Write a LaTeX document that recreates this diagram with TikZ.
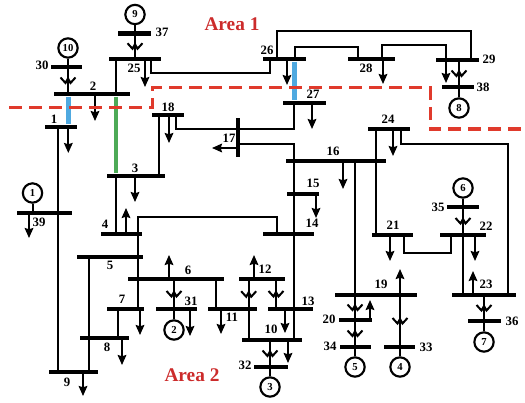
\documentclass[tikz,border=0pt]{standalone}
\usepackage{fontspec}
\setmainfont{Liberation Serif}
\usetikzlibrary{arrows.meta}
\definecolor{cutColor}{RGB}{224, 58, 44}
\definecolor{areaColor}{RGB}{204, 43, 43}
\definecolor{tieBlue}{RGB}{79, 169, 224}
\definecolor{tieGreen}{RGB}{77, 170, 87}
\tikzset{
    bus_bar/.style={
        rectangle,
        fill=black,
        inner sep=0pt,
        minimum height=3.6pt,
        minimum width=#1*0.75pt
    },
    vbus_bar/.style={
        rectangle,
        fill=black,
        inner sep=0pt,
        minimum width=3.6pt,
        minimum height=#1*0.75pt
    },
    gen_node/.style={
        circle,
        draw,
        line width=1.6pt,
        fill=white,
        inner sep=0pt,
        minimum size=14.5pt,
        font=\bfseries\fontsize{8}{8}\selectfont
    },
    num_label/.style={
        inner sep=0pt,
        font=\bfseries\fontsize{9.6}{9.6}\selectfont
    },
    area_label/.style={
        inner sep=0pt,
        text=areaColor,
        font=\bfseries\fontsize{14.5}{14.5}\selectfont
    },
    wire_line/.style={
        line width=1.5pt,
        draw=black
    },
    load_arrow/.style={
        wire_line,
        -{Stealth[length=7.5pt,width=6.5pt,inset=1pt]}
    },
    tie_line/.style={
        line width=3.6pt
    },
    cut_line/.style={
        draw=cutColor,
        line width=2.25pt,
        dash pattern=on 9.5pt off 5.5pt
    },
    xfmr/.pic={
        \draw[wire_line] (-7.5,-3) -- (-2.5,2.5) -- (0,-2) -- (2.5,2.5) -- (7.5,-3);
    }
}
\begin{document}
\begin{tikzpicture}[x=0.75pt,y=-0.75pt]
    \useasboundingbox (0,0) rectangle (525,403);

    % buses
    \node[bus_bar=55] (b39) at (44.5,213) {};
    \node[bus_bar=32] (b1) at (61,127) {};
    \node[bus_bar=76] (b2) at (92,94) {};
    \node[bus_bar=58] (b3) at (136,176) {};
    \node[bus_bar=41] (b4) at (121.5,234) {};
    \node[bus_bar=66] (b5) at (110,257) {};
    \node[bus_bar=96] (b6) at (176,279) {};
    \node[bus_bar=37] (b7) at (125.5,309) {};
    \node[bus_bar=49] (b8) at (104.5,338) {};
    \node[bus_bar=49] (b9) at (73.5,372) {};
    \node[bus_bar=60] (b10) at (272,340) {};
    \node[bus_bar=49] (b11) at (232.5,309) {};
    \node[bus_bar=46] (b12) at (262,279) {};
    \node[bus_bar=45] (b13) at (290.5,309) {};
    \node[bus_bar=51] (b14) at (288.5,234) {};
    \node[bus_bar=32] (b15) at (303,194) {};
    \node[bus_bar=100] (b16) at (336,161) {};
    \node[vbus_bar=39] (b17) at (238,137.5) {};
    \node[bus_bar=32] (b18) at (168,115) {};
    \node[bus_bar=82] (b19) at (376,295) {};
    \node[bus_bar=33] (b20) at (355.5,320) {};
    \node[bus_bar=41] (b21) at (392.5,235) {};
    \node[bus_bar=46] (b22) at (463,235) {};
    \node[bus_bar=64] (b23) at (484,295) {};
    \node[bus_bar=42] (b24) at (389,129) {};
    \node[bus_bar=52] (b25) at (135,59) {};
    \node[bus_bar=43] (b26) at (284.5,59) {};
    \node[bus_bar=43] (b27) at (304.5,103) {};
    \node[bus_bar=47] (b28) at (371.5,59) {};
    \node[bus_bar=43] (b29) at (457.5,60) {};
    \node[bus_bar=41] (b31) at (176.5,309) {};
    \node[bus_bar=34] (b32) at (271,367) {};
    \node[bus_bar=31] (b33) at (399.5,347) {};
    \node[bus_bar=31] (b34) at (355.5,347) {};
    \node[bus_bar=32] (b35) at (463,207) {};
    \node[bus_bar=33] (b36) at (484.5,321) {};
    \node[bus_bar=33] (b37) at (134.5,33.5) {};
    \node[bus_bar=32] (b38) at (458,87) {};
    \node[bus_bar=31] (b30) at (66.5,67) {};

    % generators
    \node[gen_node] (g1) at (32.5,193) {1};
    \node[gen_node] (g2) at (174,330) {2};
    \node[gen_node] (g3) at (270,387) {3};
    \node[gen_node] (g4) at (400,367) {4};
    \node[gen_node] (g5) at (355,367) {5};
    \node[gen_node] (g6) at (463,188) {6};
    \node[gen_node] (g7) at (484,342) {7};
    \node[gen_node] (g8) at (459,108) {8};
    \node[gen_node] (g9) at (135,14.5) {9};
    \node[gen_node] (g10) at (68,48) {10};

    % bus numbers
    \node[num_label] (n1) at (54,119) {1};
    \node[num_label] (n2) at (93,86) {2};
    \node[num_label] (n3) at (135,168) {3};
    \node[num_label] (n4) at (105,224) {4};
    \node[num_label] (n5) at (110,265) {5};
    \node[num_label] (n6) at (188,270) {6};
    \node[num_label] (n7) at (122,299) {7};
    \node[num_label] (n8) at (107,347) {8};
    \node[num_label] (n9) at (67,382) {9};
    \node[num_label] (n10) at (271,329) {10};
    \node[num_label] (n11) at (232,317) {11};
    \node[num_label] (n12) at (265,269) {12};
    \node[num_label] (n13) at (308,301) {13};
    \node[num_label] (n14) at (312,223) {14};
    \node[num_label] (n15) at (313,183) {15};
    \node[num_label] (n16) at (333,151) {16};
    \node[num_label] (n17) at (229,138) {17};
    \node[num_label] (n18) at (168,107) {18};
    \node[num_label] (n19) at (381,284) {19};
    \node[num_label] (n20) at (329,319) {20};
    \node[num_label] (n21) at (393,225) {21};
    \node[num_label] (n22) at (486,226) {22};
    \node[num_label] (n23) at (486,284) {23};
    \node[num_label] (n24) at (388,119) {24};
    \node[num_label] (n25) at (134,68) {25};
    \node[num_label] (n26) at (267,50) {26};
    \node[num_label] (n27) at (313,94) {27};
    \node[num_label] (n28) at (366,68) {28};
    \node[num_label] (n29) at (489,59) {29};
    \node[num_label] (n30) at (42,65) {30};
    \node[num_label] (n31) at (191,301) {31};
    \node[num_label] (n32) at (245,365) {32};
    \node[num_label] (n33) at (426,347) {33};
    \node[num_label] (n34) at (330,346) {34};
    \node[num_label] (n35) at (438,207) {35};
    \node[num_label] (n36) at (512,321) {36};
    \node[num_label] (n37) at (162,32) {37};
    \node[num_label] (n38) at (483,87) {38};
    \node[num_label] (n39) at (39,222) {39};

    \node[area_label] (area1) at (232,24) {Area 1};
    \node[area_label] (area2) at (192,375) {Area 2};

    % generator stems and transformers
    \draw[wire_line] (g1) -- (g1 |- b39);
    \draw[wire_line] (g2) -- (g2 |- b31);
    \draw[wire_line] (g3) -- (g3 |- b32);
    \draw[wire_line] (g4) -- (g4 |- b33);
    \draw[wire_line] (g5) -- (g5 |- b34);
    \draw[wire_line] (g6) -- (g6 |- b35);
    \draw[wire_line] (g7) -- (g7 |- b36);
    \draw[wire_line] (g8) -- (g8 |- b38);
    \draw[wire_line] (g9) -- (g9 |- b37);
    \draw[wire_line] (g10) -- (g10 |- b30);
    \draw[wire_line] (g2 |- b31) -- (g2 |- b6) pic[pos=.5] {xfmr};
    \draw[wire_line] (g3 |- b32) -- (g3 |- b10) pic[pos=.5] {xfmr};
    \draw[wire_line] (g4 |- b33) -- (g4 |- b19) pic[pos=.5] {xfmr};
    \draw[wire_line] (g5 |- b34) -- (g5 |- b20) pic[pos=.5] {xfmr};
    \draw[wire_line] (g5 |- b20) -- (g5 |- b19) pic[pos=.5] {xfmr};
    \draw[wire_line] (g6 |- b35) -- (g6 |- b22) pic[pos=.5] {xfmr};
    \draw[wire_line] (g7 |- b36) -- (g7 |- b23) pic[pos=.5] {xfmr};
    \draw[wire_line] (g8 |- b38) -- (g8 |- b29) pic[pos=.5] {xfmr};
    \draw[wire_line] (g9 |- b37) -- (g9 |- b25) pic[pos=.5] {xfmr};
    \draw[wire_line] (g10 |- b30) -- (g10 |- b2) pic[pos=.5] {xfmr};
    \draw[wire_line] (248.7,0 |- b12) -- (248.7,0 |- b10) pic[pos=.25] {xfmr};
    \draw[wire_line] (276,0 |- b12) -- (276,0 |- b13) pic[pos=.5] {xfmr};

    % lines
    \draw[wire_line] (116,0 |- b25) -- (116,0 |- b2);
    \draw[wire_line] (58,0 |- b1) -- (58,0 |- b9);
    \draw[wire_line] (116,0 |- b3) -- (116,0 |- b4);
    \draw[wire_line] (159,0 |- b18) -- (159,0 |- b3);
    \draw[wire_line] (151,0 |- b25) -- ++(0,14) -| (270,0 |- b26);
    \draw[wire_line] (277,0 |- b26) -- ++(0,-28) -| (471,0 |- b29);
    \draw[wire_line] (295,0 |- b26) -- ++(0,-12) -| (358,0 |- b28);
    \draw[wire_line] (382,0 |- b28) -- ++(0,-14) -| (446,0 |- b29);
    \draw[wire_line] (176,0 |- b18) -- ++(0,14) -| (b17);
    \draw[wire_line] (294,0 |- b27) -- ++(0,26) -- (238,129);
    \draw[wire_line] (294,0 |- b16) -- ++(0,-17) -- (238,144);
    \draw[wire_line] (294,0 |- b16) -- (294,0 |- b15);
    \draw[wire_line] (294,0 |- b15) -- (294,0 |- b14);
    \draw[wire_line] (294,0 |- b14) -- (294,0 |- b10);
    \draw[wire_line] (g5 |- b16) -- (g5 |- b19);
    \draw[wire_line] (376,0 |- b24) -- (376,0 |- b21);
    \draw[wire_line] (401,0 |- b24) -- ++(0,15) -| (508,0 |- b23);
    \draw[wire_line] (404,0 |- b21) -- ++(0,18) -| (451,0 |- b22);
    \draw[wire_line] (463,0 |- b22) -- (463,0 |- b23);
    \draw[wire_line] (138,0 |- b7) -- (138,0 |- b4) -- ++(0,-17) -| (277,0 |- b14);
    \draw[wire_line] (88.7,0 |- b5) -- (88.7,0 |- b9);
    \draw[wire_line] (118,0 |- b7) -- (118,0 |- b8);
    \draw[wire_line] (216,0 |- b6) -- (216,0 |- b11);

    % loads
    \draw[load_arrow] (95,0 |- b2) -- ++(0,27);
    \draw[load_arrow] (68.3,0 |- b1) -- ++(0,26);
    \draw[load_arrow] (29,0 |- b39) -- ++(0,25);
    \draw[load_arrow] (135,0 |- b3) -- ++(0,26);
    \draw[load_arrow] (126,0 |- b4) -- ++(0,-26);
    \draw[load_arrow] (169,0 |- b6) -- ++(0,-24);
    \draw[load_arrow] (140,0 |- b7) -- ++(0,26);
    \draw[load_arrow] (122,0 |- b8) -- ++(0,27);
    \draw[load_arrow] (83,0 |- b9) -- ++(0,24);
    \draw[load_arrow] (288,0 |- b10) -- ++(0,23);
    \draw[load_arrow] (221,0 |- b11) -- ++(0,25);
    \draw[load_arrow] (254,0 |- b12) -- ++(0,-24);
    \draw[load_arrow] (285,0 |- b13) -- ++(0,24);
    \draw[load_arrow] (316,0 |- b15) -- ++(0,24);
    \draw[load_arrow] (343,0 |- b16) -- ++(0,28);
    \draw[load_arrow] (b17.center |- 0,148) -- ++(-26,0);
    \draw[load_arrow] (169,0 |- b18) -- ++(0,28);
    \draw[load_arrow] (400,0 |- b19) -- ++(0,-26);
    \draw[load_arrow] (370,0 |- b20) -- ++(0,-20);
    \draw[load_arrow] (390,0 |- b21) -- ++(0,26);
    \draw[load_arrow] (475,0 |- b22) -- ++(0,26);
    \draw[load_arrow] (473,0 |- b23) -- ++(0,-24);
    \draw[load_arrow] (393,0 |- b24) -- ++(0,27);
    \draw[load_arrow] (145,0 |- b25) -- ++(0,28);
    \draw[load_arrow] (287,0 |- b26) -- ++(0,26);
    \draw[load_arrow] (312,0 |- b27) -- ++(0,26);
    \draw[load_arrow] (383,0 |- b28) -- ++(0,25);
    \draw[load_arrow] (446,0 |- b29) -- ++(0,23);
    \draw[load_arrow] (190,0 |- b31) -- ++(0,27);

    % marked ties
    \draw[tie_line, draw=tieBlue] (68.3,0 |- b2.south) -- (68.3,0 |- b1.north);
    \draw[tie_line, draw=tieBlue] (294.7,0 |- b26.south) -- (294.7,0 |- b27.north);
    \draw[tie_line, draw=tieGreen] (116,0 |- b2.south) -- (116,0 |- b3.north);

    % area boundary
    \coordinate (cutA) at (9,108);
    \coordinate (cutB) at (152,88);
    \coordinate (cutC) at (430,129);
    \coordinate (cutD) at (525,129);
    \draw[cut_line] (cutA) -| (cutB) -| (cutC) -- (cutD);
\end{tikzpicture}
\end{document}
